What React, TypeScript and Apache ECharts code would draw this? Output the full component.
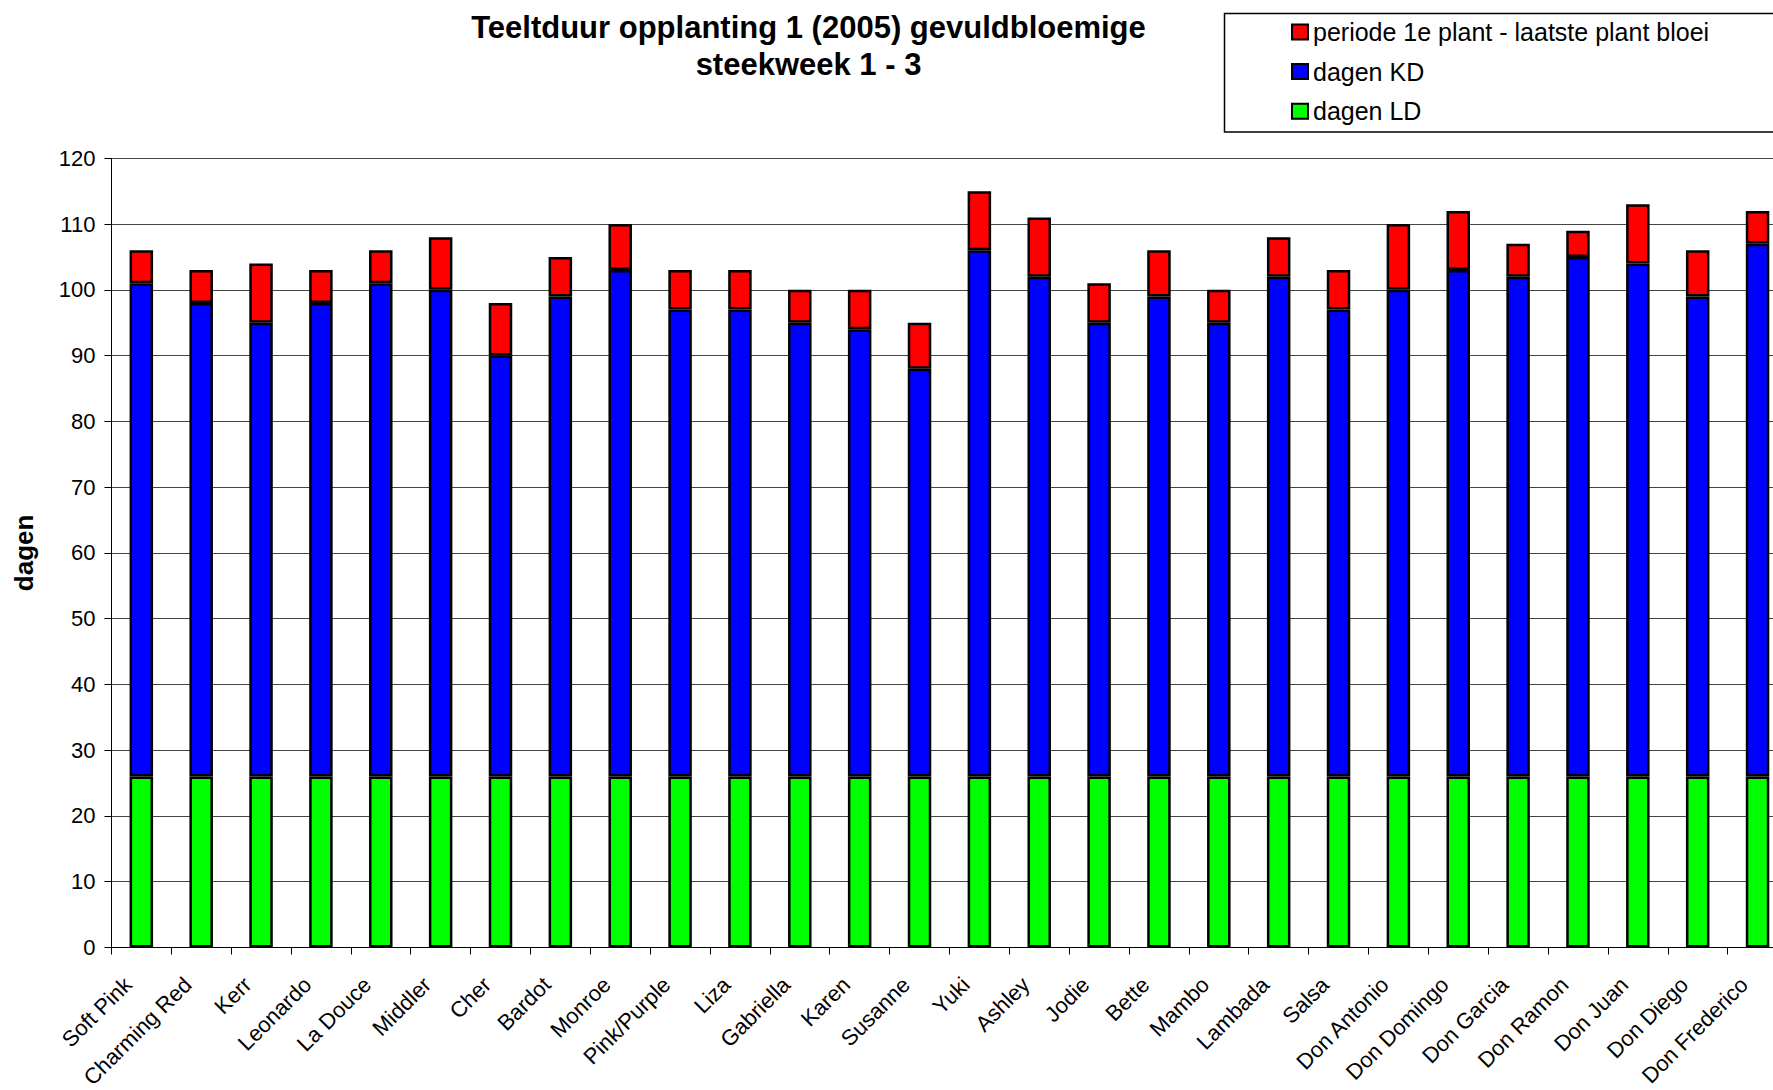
import React, { useEffect, useRef } from "react";
import * as echarts from "echarts";

const categories = [
  "Soft Pink", "Charming Red", "Kerr", "Leonardo", "La Douce", "Middler", "Cher",
  "Bardot", "Monroe", "Pink/Purple", "Liza", "Gabriella", "Karen", "Susanne",
  "Yuki", "Ashley", "Jodie", "Bette", "Mambo", "Lambada", "Salsa", "Don Antonio",
  "Don Domingo", "Don Garcia", "Don Ramon", "Don Juan", "Don Diego", "Don Frederico",
];

const dagenLD = [26, 26, 26, 26, 26, 26, 26, 26, 26, 26, 26, 26, 26, 26, 26, 26, 26, 26, 26, 26, 26, 26, 26, 26, 26, 26, 26, 26];
const dagenKD = [75, 72, 69, 72, 75, 74, 64, 73, 77, 71, 71, 69, 68, 62, 80, 76, 69, 73, 69, 76, 71, 74, 77, 76, 79, 78, 73, 81];
const periode = [5, 5, 9, 5, 5, 8, 8, 6, 7, 6, 6, 5, 6, 7, 9, 9, 6, 7, 5, 6, 6, 10, 9, 5, 4, 9, 7, 5];

const yTicks = { min: 0, max: 120, interval: 10 };

const titleLines = ["Teeltduur opplanting 1 (2005) gevuldbloemige", "steekweek 1 - 3"];
const seriesNames = ["dagen LD", "dagen KD", "periode 1e plant - laatste plant bloei"];
const colors = ["#00FF00", "#0000FF", "#FF0000"];

const FONT = "'Liberation Sans', Arial, Helvetica, sans-serif";

export default function App() {
  const ref = useRef<HTMLDivElement>(null);

  useEffect(() => {
    if (!ref.current) return;
    const chart = echarts.init(ref.current, undefined, { renderer: "svg" });
    const W = 1800;
    const axisEnd = 111.4 + 28 * 59.86;
    const dataSets = [dagenLD, dagenKD, periode];
    const option: any = {
      animation: false,
      backgroundColor: "#fff",
      textStyle: { fontFamily: FONT },
      grid: {
        left: 111.4,
        top: 158.3,
        right: W - axisEnd,
        bottom: 1090 - 947.5,
        containLabel: false,
        outerBoundsMode: "none",
      },
      legend: {
        orient: "vertical",
        left: 1286,
        top: 14.5,
        itemWidth: 16,
        itemHeight: 15,
        itemGap: 14.6,
        data: [seriesNames[2], seriesNames[1], seriesNames[0]],
        textStyle: { fontFamily: FONT, fontSize: 25, color: "#000" },
        icon: "rect",
      },
      graphic: [
        {
          type: "rect",
          z: -1,
          shape: { x: 1224.5, y: 13.5, width: 600, height: 118.5 },
          style: { fill: "#fff", stroke: "#000", lineWidth: 1.5 },
        },
        {
          type: "text",
          x: 808.5,
          y: 27,
          style: { text: titleLines[0], fontFamily: FONT, fontSize: 31, fontWeight: "bold", fill: "#000", align: "center", verticalAlign: "middle" },
        },
        {
          type: "text",
          x: 808.5,
          y: 64.5,
          style: { text: titleLines[1], fontFamily: FONT, fontSize: 31, fontWeight: "bold", fill: "#000", align: "center", verticalAlign: "middle" },
        },
      ],
      xAxis: {
        type: "category",
        data: categories,
        boundaryGap: true,
        axisLine: { lineStyle: { color: "#000", width: 1 } },
        axisTick: { show: true, length: 7, inside: false, lineStyle: { color: "#000" } },
        axisLabel: { rotate: 45, fontSize: 22, color: "#000", fontFamily: FONT, margin: 20, interval: 0, padding: [0, 19, 0, 0] },
        splitLine: { show: false },
      },
      yAxis: {
        type: "value",
        min: yTicks.min,
        max: yTicks.max,
        interval: yTicks.interval,
        name: "dagen",
        nameLocation: "middle",
        nameGap: 74,
        nameRotate: 90,
        nameTextStyle: { fontFamily: FONT, fontSize: 26, fontWeight: "bold", color: "#000" },
        axisLine: { show: true, lineStyle: { color: "#000", width: 1 } },
        axisTick: { show: true, length: 7, lineStyle: { color: "#000" } },
        axisLabel: { fontSize: 22, color: "#000", fontFamily: FONT, margin: 16 },
        splitLine: { show: true, lineStyle: { color: "#444", width: 1 } },
      },
      series: dataSets.map((d, i) => ({
        name: seriesNames[i],
        type: "bar",
        stack: "total",
        data: d,
        barWidth: 23.5,
        itemStyle: { color: colors[i], borderColor: "#000", borderWidth: 2.5 },
      })),
    };
    chart.setOption(option);
    return () => chart.dispose();
  }, []);

  return (
    <div style={{ position: "fixed", left: 0, top: 0, width: 1773, height: 1090, overflow: "hidden", background: "#fff" }}>
      <div ref={ref} style={{ width: 1800, height: 1090 }} />
    </div>
  );
}
